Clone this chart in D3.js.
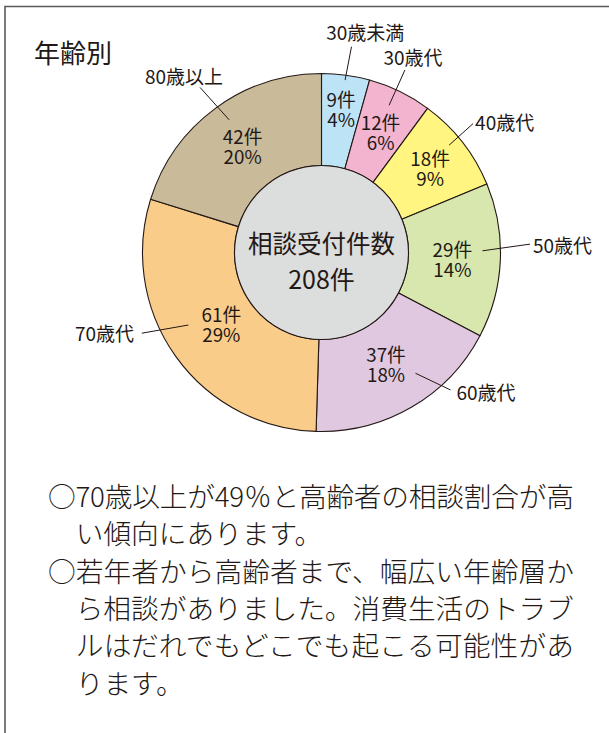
<!DOCTYPE html>
<html><head><meta charset="utf-8">
<script src="https://cdn.jsdelivr.net/npm/d3@7"></script>
<style>
html,body{margin:0;padding:0;background:#fff;}
svg{display:block;}
text{font-family:"Noto Sans CJK JP","Noto Sans",sans-serif;fill:#231815;}
</style></head>
<body>
<svg id="chart" width="609" height="733"></svg>
<script>
// ---- data ----
const title = "年齢別";
const categories = ["30歳未満","30歳代","40歳代","50歳代","60歳代","70歳代","80歳以上"];
const counts = [9, 12, 18, 29, 37, 61, 42];
const colors = ["#bde3f7","#f3b4cf","#fff580","#d7e7ae","#e1c8e1","#f9cc8a","#c9ba9a"];
const centerLabel = ["相談受付件数", "208件"];
const noteLines = [
  "○70歳以上が49％と高齢者の相談割合が高",
  "　い傾向にあります。",
  "○若年者から高齢者まで、幅広い年齢層か",
  "　ら相談がありました。消費生活のトラブ",
  "　ルはだれでもどこでも起こる可能性があ",
  "　ります。"
];

// ---- layout (not data) ----
const cx = 321.5, cy = 252.5, rIn = 87, rOut = 179;
const innerLabelR = [145, 135, 138, 131, 128, 123, 133];
// leader: [angle offset inner (deg), r inner, angle offset outer (deg), r outer, anchor, dx, dy]
const leaders = [
  [0.0, 174, 0.5, 208, "middle", 13.8, -15],
  [-1.3, 162, -1.4, 200.7, "middle", 8, -13.3],
  [-2.0, 166.8, -2.3, 199, "start", 2, -2],
  [-3.2, 161, -4.9, 208.7, "start", 3, 0.8],
  [-7.6, 153, -12.9, 188.5, "start", 6, 1.7],
  [6.9, 151.6, 11.3, 197, "end", -7.7, -0.6],
  [1.5, 161.6, 0.0, 205, "middle", -16, -12]
];

const svg = d3.select("#chart");

// frame
svg.append("path").attr("d","M5,733V6.5H609").attr("fill","none")
  .attr("stroke","#5a5a5a").attr("stroke-width",1.6);

// title
svg.append("text").attr("x",34).attr("y",51.7).attr("dominant-baseline","central")
  .attr("font-size",26).text(title);

const total = d3.sum(counts);
const pie = d3.pie().sort(null).value(d => d).startAngle(0).endAngle(2*Math.PI);
const arcs = pie(counts);
const arc = d3.arc().innerRadius(rIn).outerRadius(rOut);
const g = svg.append("g").attr("transform",`translate(${cx},${cy})`);

g.selectAll("path.slice").data(arcs).join("path")
  .attr("class","slice")
  .attr("d", arc)
  .attr("fill",(d,i)=>colors[i])
  .attr("stroke","#231815").attr("stroke-width",1.1).attr("stroke-linejoin","round");

g.append("circle").attr("r",rIn).attr("fill","#dcdddd")
  .attr("stroke","#231815").attr("stroke-width",1.1);

const pt = (deg, r) => [r*Math.sin(deg*Math.PI/180), -r*Math.cos(deg*Math.PI/180)];
const midDeg = d => (d.startAngle + d.endAngle)/2 * 180/Math.PI;

// inner labels
arcs.forEach((d,i) => {
  const [x,y] = pt(midDeg(d), innerLabelR[i]);
  const t = g.append("text").attr("text-anchor","middle").attr("font-size",18.8);
  t.append("tspan").attr("x",x).attr("y",y-10).attr("dominant-baseline","central").text(counts[i]+"件");
  t.append("tspan").attr("x",x).attr("y",y+10).attr("dominant-baseline","central")
    .text(Math.round(counts[i]/total*100)+"%");
});

// leaders + outer labels
arcs.forEach((d,i) => {
  const L = leaders[i], m = midDeg(d);
  const p1 = pt(m+L[0], L[1]), p2 = pt(m+L[2], L[3]);
  g.append("line").attr("x1",p1[0]).attr("y1",p1[1]).attr("x2",p2[0]).attr("y2",p2[1])
    .attr("stroke","#231815").attr("stroke-width",1);
  g.append("text").attr("x",p2[0]+L[5]).attr("y",p2[1]+L[6])
    .attr("text-anchor",L[4]).attr("dominant-baseline","central")
    .attr("font-size",19).text(categories[i]);
});

// center label
g.append("text").attr("x",0).attr("y",242-cy).attr("text-anchor","middle")
  .attr("dominant-baseline","central").attr("font-size",24.5).text(centerLabel[0]);
g.append("text").attr("x",0).attr("y",278-cy).attr("text-anchor","middle")
  .attr("dominant-baseline","central").attr("font-size",25).text(centerLabel[1]);

// note text
const fullLen = 526;
noteLines.forEach((s,i) => {
  const t = svg.append("text").attr("x",48).attr("y",495 + i*37.3)
    .attr("dominant-baseline","central").attr("font-size",27.7)
    .attr("font-weight",300).text(s);
  if (i===0 || i===2 || i===3 || i===4) t.attr("textLength",fullLen).attr("lengthAdjust","spacing");
});
</script>
</body></html>
